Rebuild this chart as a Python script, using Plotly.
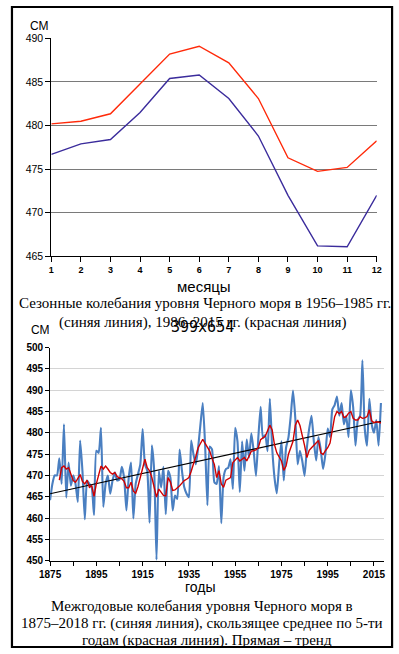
import plotly.graph_objects as go

W, H = 399, 654

# ---------- Top chart: seasonal levels ----------
months = [1, 2, 3, 4, 5, 6, 7, 8, 9, 10, 11, 12]
level_1956_1985 = [476.7, 477.9, 478.4, 481.5, 485.4, 485.8, 483.1, 478.8, 472.0, 466.2, 466.1, 472.0]
level_1986_2015 = [480.2, 480.5, 481.35, 484.8, 488.2, 489.1, 487.2, 483.1, 476.3, 474.75, 475.2, 478.25]
top_yticks = [465, 470, 475, 480, 485, 490]

# ---------- Bottom chart: annual levels ----------
years = list(range(1875, 2019))
annual_level = [
    464.2, 468.0, 470.0, 470.0, 474.0, 468.0, 482.0, 464.8, 473.0, 467.6,   # 1875-1884
    470.0, 468.0, 463.8, 478.2, 471.0, 459.7, 468.8, 468.0, 467.2, 460.7,   # 1885-1894
    475.8, 475.3, 481.2, 462.6, 468.0, 470.0, 465.7, 468.8, 470.7, 468.8,   # 1895-1904
    469.0, 472.0, 469.5, 461.8, 469.5, 473.0, 459.9, 468.0, 470.3, 472.6,   # 1905-1914
    480.9, 472.6, 471.1, 458.9, 477.1, 471.1, 450.2, 471.1, 467.2, 472.0,   # 1915-1924
    460.9, 471.1, 469.5, 461.8, 465.3, 464.5, 476.1, 471.1, 467.2, 465.7,   # 1925-1934
    464.9, 478.2, 474.9, 472.6, 476.5, 482.0, 487.0, 477.2, 463.0, 476.8,   # 1935-1944
    476.1, 468.4, 468.0, 472.2, 458.8, 469.6, 471.5, 471.8, 473.8, 466.8,   # 1945-1954
    481.2, 478.0, 466.1, 478.0, 471.1, 478.4, 474.2, 479.9, 475.7, 469.9,   # 1955-1964
    478.8, 486.1, 478.8, 479.5, 475.7, 488.0, 476.5, 469.5, 465.8, 472.6,   # 1965-1974
    478.0, 468.8, 476.5, 478.8, 483.8, 489.9, 483.4, 472.6, 475.8, 473.4,   # 1975-1984
    469.9, 476.5, 481.0, 484.0, 478.0, 473.5, 479.0, 476.0, 471.5, 475.0,   # 1985-1994
    481.0, 479.0, 485.5, 486.5, 488.5, 484.0, 487.0, 482.0, 484.0, 479.0,   # 1995-2004
    490.0, 486.0, 477.0, 483.0, 484.0, 497.0, 481.0, 477.0, 488.0, 482.0,   # 2005-2014
    480.0, 483.0, 477.0, 487.0,                                             # 2015-2018
]

ma_years = list(range(1879, 2019))
moving_avg = [
    468.9, 471.8, 472.2, 471.5, 471.8, 470.3, 468.8, 468.4, 469.2, 470.2,   # 1879-1888
    468.6, 468.0, 468.9, 467.2, 467.6, 465.1, 468.0, 469.9, 472.2, 471.5,   # 1889-1898
    472.2, 471.5, 470.7, 470.3, 470.7, 469.7, 469.5, 469.2, 468.6, 467.1,   # 1899-1908
    467.1, 468.4, 466.3, 465.8, 467.4, 469.5, 472.2, 473.8, 471.8, 471.1,   # 1909-1918
    469.5, 466.8, 464.9, 466.8, 466.0, 465.3, 465.2, 469.5, 468.5, 466.5,   # 1919-1928
    466.6, 467.0, 467.6, 468.2, 468.8, 469.1, 469.5, 471.0, 472.6, 474.5,   # 1929-1938
    476.5, 477.5, 478.5, 477.5, 476.5, 475.7, 474.0, 472.6, 469.5, 471.1,   # 1939-1948
    468.0, 467.2, 468.9, 469.2, 469.5, 473.0, 473.5, 474.2, 473.4, 473.8,   # 1949-1958
    474.2, 473.4, 474.5, 475.7, 475.8, 476.0, 476.5, 478.4, 478.8, 479.2,   # 1959-1968
    480.5, 481.8, 480.7, 477.2, 475.3, 474.2, 473.4, 471.2, 472.2, 474.9,   # 1969-1978
    476.5, 478.0, 481.8, 483.0, 481.7, 479.5, 477.0, 474.2, 475.9, 476.5,   # 1979-1988
    477.0, 477.5, 478.2, 475.3, 474.9, 475.8, 476.5, 477.6, 481.1, 483.8,   # 1989-1998
    485.0, 484.5, 485.0, 483.6, 483.8, 484.6, 485.0, 483.4, 483.0, 483.0,   # 1999-2008
    483.8, 483.4, 483.5, 483.8, 485.4, 482.8, 482.4, 482.6, 482.5, 482.3,   # 2009-2018
]

trend_years = [1875, 2018]
trend_values = [465.7, 482.7]

bottom_yticks = [450, 455, 460, 465, 470, 475, 480, 485, 490, 495, 500]
bottom_xticks = [1875, 1895, 1915, 1935, 1955, 1975, 1995, 2015]

# ---------- helpers ----------
def px(x):
    return x / W


def py(y):
    return 1 - y / H


SANS = "Liberation Sans, Arial, sans-serif"
SERIF = "Liberation Serif, Times New Roman, serif"

fig = go.Figure()

fig.add_trace(go.Scatter(x=months, y=level_1956_1985, mode="lines",
                         line=dict(color="#3b2c9c", width=1.4),
                         xaxis="x", yaxis="y", showlegend=False))
fig.add_trace(go.Scatter(x=months, y=level_1986_2015, mode="lines",
                         line=dict(color="#ff2a0a", width=1.4),
                         xaxis="x", yaxis="y", showlegend=False))

fig.add_trace(go.Scatter(x=years, y=annual_level, mode="lines",
                         line=dict(color="#4a7fc1", width=2.1, shape="spline", smoothing=0.5),
                         xaxis="x2", yaxis="y2", showlegend=False))
fig.add_trace(go.Scatter(x=trend_years, y=trend_values, mode="lines",
                         line=dict(color="#000000", width=1.1),
                         xaxis="x2", yaxis="y2", showlegend=False))
fig.add_trace(go.Scatter(x=ma_years, y=moving_avg, mode="lines",
                         line=dict(color="#d00000", width=1.4),
                         xaxis="x2", yaxis="y2", showlegend=False))

fig.update_layout(
    width=W, height=H,
    margin=dict(l=0, r=0, t=0, b=0),
    paper_bgcolor="white", plot_bgcolor="white",
    showlegend=False,
    xaxis=dict(domain=[px(42), px(381)], range=[1, 12], anchor="y",
               tickvals=months, ticktext=[str(m) for m in months],
               showline=True, linecolor="black", linewidth=1,
               ticks="outside", ticklen=5, tickcolor="black", tickwidth=1,
               showgrid=False, zeroline=False,
               tickfont=dict(family=SANS, size=9, color="black", weight="bold")),
    yaxis=dict(domain=[py(255), py(33)], range=[465, 490], anchor="x",
               tickvals=top_yticks,
               showline=True, linecolor="black", linewidth=1,
               ticks="outside", ticklen=5, tickcolor="black", tickwidth=1,
               showgrid=True, gridcolor="#7a7a7a", gridwidth=1.3, zeroline=False,
               tickfont=dict(family=SANS, size=10.5, color="black")),
    xaxis2=dict(domain=[px(40.7), px(389)], range=[1875, 2019.5], anchor="y2",
                tickvals=bottom_xticks,
                showline=True, linecolor="black", linewidth=1,
                ticks="outside", ticklen=4, tickcolor="black", tickwidth=1,
                minor=dict(tickvals=list(range(1885, 2020, 20)), ticks="outside",
                           ticklen=4, tickcolor="black", showgrid=False),
                showgrid=False, zeroline=False,
                tickfont=dict(family=SANS, size=10, color="black", weight="bold")),
    yaxis2=dict(domain=[py(565), py(348)], range=[450, 500], anchor="x2",
                tickvals=bottom_yticks,
                showline=True, linecolor="black", linewidth=1,
                ticks="outside", ticklen=4, tickcolor="black", tickwidth=1,
                showgrid=True, gridcolor="#d4d4d4", gridwidth=1.2, zeroline=False,
                tickfont=dict(family=SANS, size=10, color="black", weight="bold")),
)


def note(text, x, y, size, family=SANS, color="black"):
    fig.add_annotation(text=text, x=px(x), y=py(y), xref="paper", yref="paper",
                       xanchor="center", yanchor="middle", showarrow=False,
                       font=dict(family=family, size=size, color=color))


note("СМ", 30, 20, 12)
note("месяцы", 201, 286, 15)
note("Сезонные колебания уровня Черного моря в 1956–1985 гг.", 202, 303, 15, SERIF)
note("(синяя линия), 1986–2015 гг. (красная линия)", 200, 322, 15, SERIF)
note("399x654", 199, 327, 15, "DejaVu Sans Mono, monospace")
note("СМ", 31, 330, 12)
note("годы", 197, 592, 14)
note("Межгодовые колебания уровня Черного моря в", 199, 611, 15, SERIF)
note("1875–2018 гг. (синяя линия), скользящее среднее по 5-ти", 199, 629, 15, SERIF)
note("годам (красная линия). Прямая – тренд", 204, 646, 15, SERIF)

fig.add_shape(type="rect", xref="paper", yref="paper",
              x0=px(1), x1=px(397), y0=py(653), y1=py(1),
              line=dict(color="black", width=2.2), fillcolor="rgba(0,0,0,0)")

fig.write_html(
    "out.html",
    config={"displayModeBar": False},
    post_script="document.body.style.margin='0';document.body.style.overflow='hidden';",
)
